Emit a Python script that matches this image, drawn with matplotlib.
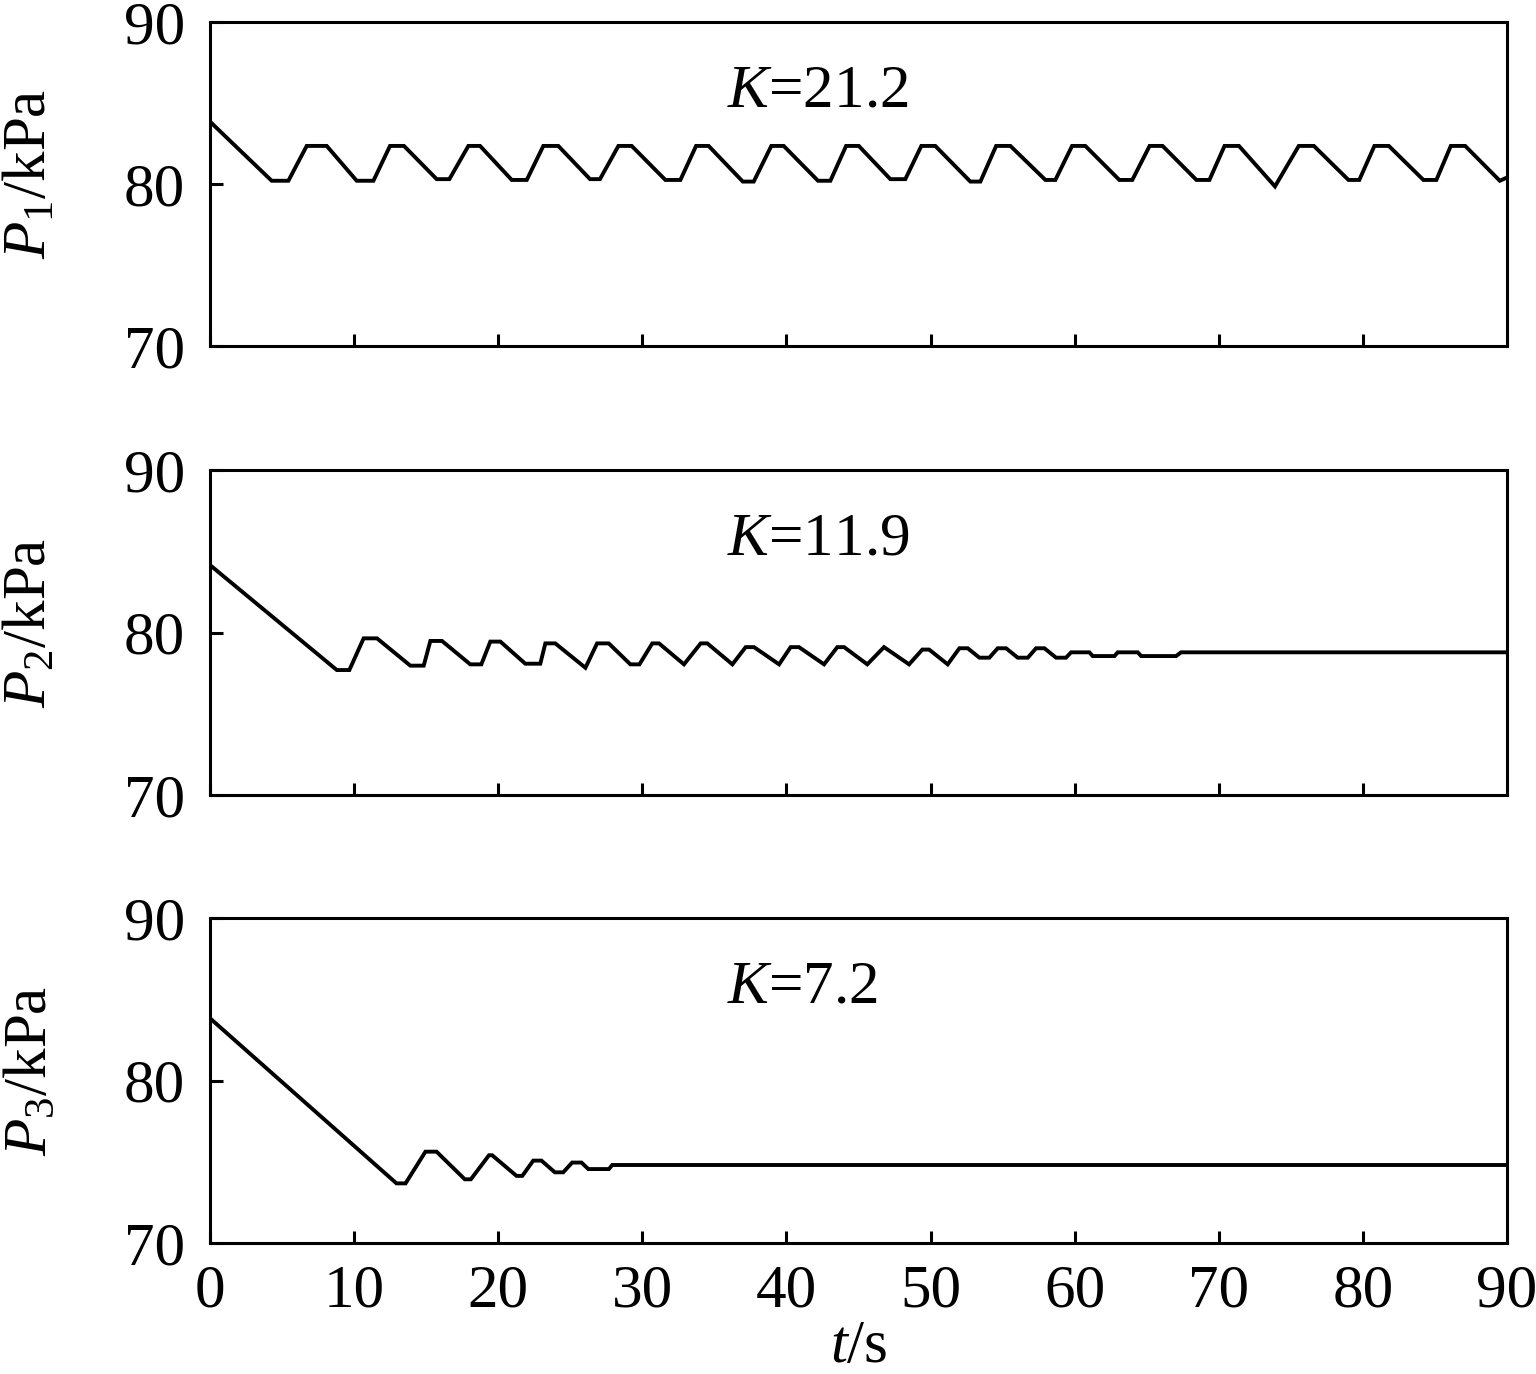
import matplotlib
matplotlib.use("Agg")
import matplotlib.pyplot as plt

# ---------------- data (breakpoints) ----------------
t1 = [0, 4.28, 5.44, 6.71, 8.1, 10.18, 11.34, 12.49, 13.46, 15.73, 16.61,
      17.93, 18.74, 20.94, 21.98, 23.13, 24.17, 26.37, 27.06, 28.34, 29.26,
      31.6, 32.64, 33.73, 34.6, 36.97, 37.73, 38.95, 39.81, 42.19, 43.05,
      44.14, 45.02, 47.21, 48.25, 49.36, 50.33, 52.76, 53.46, 54.55, 55.54,
      57.97, 58.66, 59.82, 60.74, 63.1, 64.0, 65.2, 66.1, 68.45, 69.35,
      70.4, 71.4, 73.9, 75.55, 76.6, 79.0, 79.75, 80.8, 81.8, 84.2, 85.1,
      86.1, 87.1, 89.5, 90]
p1 = [83.85, 80.2, 80.2, 82.35, 82.35, 80.2, 80.2, 82.35, 82.35, 80.3, 80.3,
      82.35, 82.35, 80.25, 80.25, 82.35, 82.35, 80.3, 80.3, 82.35, 82.35,
      80.25, 80.25, 82.35, 82.35, 80.15, 80.15, 82.35, 82.35, 80.2, 80.2,
      82.35, 82.35, 80.3, 80.3, 82.35, 82.35, 80.15, 80.15, 82.35, 82.35,
      80.25, 80.25, 82.35, 82.35, 80.25, 80.25, 82.35, 82.35, 80.25, 80.25,
      82.35, 82.35, 79.85, 82.35, 82.35, 80.25, 80.25, 82.35, 82.35, 80.25, 80.25,
      82.35, 82.35, 80.2, 80.4]

t2 = [0, 8.8, 9.67, 10.66, 11.59, 13.9, 14.83, 15.29, 16.1, 18.06, 18.83,
      19.45, 20.15, 21.88, 22.92, 23.27, 23.96, 26.05, 26.86, 27.67, 29.17,
      29.8, 30.69, 31.16, 32.89, 34.05, 34.51, 36.25, 37.17, 37.75, 39.49,
      40.29, 40.87, 42.61, 43.53, 44.0, 45.61, 46.77, 48.51, 49.43, 49.9,
      51.19, 52.0, 52.58, 53.39, 54.08, 54.66, 55.24, 56.05, 56.75, 57.32,
      57.9, 58.71, 59.4, 59.75, 61.02, 61.25, 62.76, 62.99, 64.38, 64.61,
      67.04, 67.38, 90]
p2 = [84.15, 77.69, 77.69, 79.64, 79.64, 77.96, 77.96, 79.48, 79.48, 78.04, 78.04,
      79.44, 79.44, 78.08, 78.08, 79.33, 79.33, 77.83, 79.33, 79.33, 78.04,
      78.04, 79.33, 79.33, 78.04, 79.33, 79.33, 78.04, 79.1, 79.1, 78.04,
      79.1, 79.1, 78.04, 79.1, 79.1, 78.04, 79.1, 78.04, 78.95, 78.95,
      78.04, 79.03, 79.03, 78.45, 78.45, 79.03, 79.03, 78.45, 78.45, 79.03,
      79.03, 78.45, 78.45, 78.78, 78.78, 78.55, 78.55, 78.78, 78.78, 78.55,
      78.55, 78.78, 78.78]

t3 = [0, 12.94, 13.57, 14.95, 15.72, 17.68, 18.1, 19.36, 19.58, 21.27, 21.67,
      22.43, 23.0, 23.93, 24.51, 25.13, 25.78, 26.25, 27.68, 27.91, 90]
p3 = [83.83, 73.67, 73.67, 75.62, 75.62, 73.92, 73.92, 75.4, 75.4, 74.13, 74.13,
      75.07, 75.07, 74.35, 74.35, 74.95, 74.95, 74.55, 74.55, 74.8, 74.8]

k_labels = [r"$K$=21.2", r"$K$=11.9", r"$K$=7.2"]
y_labels = [r"$P_{\mathrm{1}}$/kPa", r"$P_{\mathrm{2}}$/kPa", r"$P_{\mathrm{3}}$/kPa"]
x_ticks = [0, 10, 20, 30, 40, 50, 60, 70, 80, 90]
y_ticks = [70, 80, 90]

# ---------------- style ----------------
plt.rcParams["font.family"] = ["Liberation Serif", "DejaVu Serif"]
plt.rcParams["mathtext.fontset"] = "custom"
plt.rcParams["mathtext.rm"] = "Liberation Serif"
plt.rcParams["mathtext.it"] = "Liberation Serif:italic"

W, H = 1536, 1374
fig = plt.figure(figsize=(W / 100, H / 100), dpi=100)

left = 210 / W
width = 1297 / W
tops = [22, 470, 918]
bottoms = [346, 795, 1243]

series = [(t1, p1), (t2, p2), (t3, p3)]
fs = 44

for i, ((tt, pp), top, bot) in enumerate(zip(series, tops, bottoms)):
    ax = fig.add_axes([left, 1 - bot / H, width, (bot - top) / H])
    ax.plot(tt, pp, color="black", lw=2.8, solid_joinstyle="miter")
    ax.set_xlim(0, 90)
    ax.set_ylim(70, 90)
    ax.set_xticks(x_ticks)
    ax.set_yticks(y_ticks)
    for s in ax.spines.values():
        s.set_linewidth(2.2)
    ax.tick_params(axis="both", direction="in", length=9, width=2.2,
                   labelsize=fs, top=False, right=False)
    ax.tick_params(axis="y", pad=18)
    ax.tick_params(axis="x", pad=15)
    if i < 2:
        ax.tick_params(axis="x", labelbottom=False)
    else:
        ax.set_xlabel(r"$t$/s", fontsize=fs, labelpad=0)
    ax.set_ylabel(y_labels[i], fontsize=fs)
    ax.yaxis.set_label_coords(-0.117, 0.53)
    ax.text(0.3986, 0.74, k_labels[i], transform=ax.transAxes,
            fontsize=fs, va="baseline", ha="left")

fig.savefig("out.png", dpi=100)
